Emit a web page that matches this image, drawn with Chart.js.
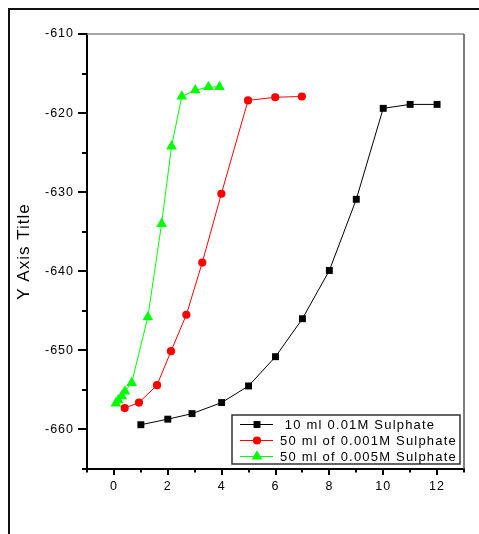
<!DOCTYPE html>
<html><head><meta charset="utf-8">
<script src="https://cdn.jsdelivr.net/npm/chart.js@4.4.0/dist/chart.umd.min.js"></script>
<style>html,body{margin:0;padding:0;background:#fff;}#wrap{width:479px;height:534px;}</style>
</head><body><div id="wrap"><canvas id="c" width="479" height="534"></canvas></div>
<script>
const seriesLabels = ['10 ml 0.01M Sulphate', '50 ml of 0.001M Sulphate', '50 ml of 0.005M Sulphate'];
const seriesColors = ['#000000', '#ff0000', '#00ff00'];
const seriesMarkers = ['rect', 'circle', 'triangle'];

const blackX = [1, 2, 2.9, 4, 5, 6, 7, 8, 9, 10, 11, 12];
const blackY = [-659.4, -658.7, -658.0, -656.6, -654.5, -650.8, -646.0, -639.9, -630.9, -619.4, -618.9, -618.9];

const redX = [0.4, 0.93, 1.6, 2.12, 2.69, 3.28, 3.99, 4.98, 5.99, 6.98];
const redY = [-657.3, -656.6, -654.4, -650.1, -645.5, -638.9, -630.2, -618.4, -618.0, -617.9];

const greenX = [0.07, 0.16, 0.29, 0.41, 0.66, 1.26, 1.77, 2.14, 2.52, 3.02, 3.51, 3.92];
const greenY = [-656.7, -656.3, -655.8, -655.2, -654.1, -645.8, -634.0, -624.2, -617.9, -617.1, -616.7, -616.7];

const xTickValues = [0, 2, 4, 6, 8, 10, 12];
const xMinorValues = [-1, 1, 3, 5, 7, 9, 11, 13];
const yTickValues = [-660, -650, -640, -630, -620, -610];
const yMinorValues = [-665, -655, -645, -635, -625, -615];
const xRange = [-1, 13];
const yRange = [-665, -610];
const yAxisTitle = 'Y Axis Title';

const seriesX = [blackX, redX, greenX];
const seriesY = [blackY, redY, greenY];
const markerRadius = {rect: 4.9, circle: 4.1, triangle: 6.2};

const datasets = seriesLabels.map((lab, i) => ({
  label: lab,
  data: seriesX[i].map((x, j) => ({x: x, y: seriesY[i][j]})),
  showLine: true,
  borderColor: seriesColors[i],
  borderWidth: 1,
  backgroundColor: seriesColors[i],
  pointBackgroundColor: seriesColors[i],
  pointBorderWidth: 0,
  pointStyle: seriesMarkers[i],
  pointRadius: markerRadius[seriesMarkers[i]],
  pointHoverRadius: markerRadius[seriesMarkers[i]],
  tension: 0
}));

const decor = {
  id: 'decor',
  beforeDraw(chart) {
    const ctx = chart.ctx;
    ctx.letterSpacing = '1px';
    ctx.save();
    ctx.strokeStyle = '#111';
    ctx.lineWidth = 2;
    ctx.strokeRect(9, 9, 500, 560);
    ctx.restore();
  },
  afterDraw(chart) {
    const ctx = chart.ctx;
    const a = chart.chartArea;
    const xs = chart.scales.x, ys = chart.scales.y;
    ctx.save();
    ctx.strokeStyle = '#8a8a8a';
    ctx.lineWidth = 1.5;
    ctx.beginPath();
    ctx.moveTo(a.left, a.top); ctx.lineTo(a.right, a.top);
    ctx.stroke();
    ctx.strokeStyle = '#555';
    ctx.beginPath();
    ctx.moveTo(a.right, a.top); ctx.lineTo(a.right, a.bottom + 2);
    ctx.stroke();
    ctx.strokeStyle = '#000';
    ctx.lineWidth = 2;
    ctx.beginPath();
    yTickValues.forEach(v => { const p = Math.round(ys.getPixelForValue(v)); ctx.moveTo(a.left - 9, p); ctx.lineTo(a.left, p); });
    yMinorValues.forEach(v => { const p = Math.round(ys.getPixelForValue(v)); ctx.moveTo(a.left - 5, p); ctx.lineTo(a.left, p); });
    xTickValues.forEach(v => { const p = Math.round(xs.getPixelForValue(v)); ctx.moveTo(p, a.bottom); ctx.lineTo(p, a.bottom + 6); });
    xMinorValues.forEach(v => { const p = Math.round(xs.getPixelForValue(v)); ctx.moveTo(p, a.bottom); ctx.lineTo(p, a.bottom + 3.5); });
    ctx.stroke();
    const bx = 232, by = 415, bw = 228, bh = 49;
    ctx.fillStyle = '#fff';
    ctx.fillRect(bx, by, bw, bh);
    ctx.strokeStyle = '#333';
    ctx.lineWidth = 1.5;
    ctx.strokeRect(bx, by, bw, bh);
    ctx.font = '13px Arial, "Liberation Sans", sans-serif';
    ctx.letterSpacing = '1.2px';
    ctx.textBaseline = 'middle';
    ctx.textAlign = 'left';
    datasets.forEach((ds, i) => {
      const y = by + 9.5 + i * 16;
      ctx.strokeStyle = ds.borderColor;
      ctx.lineWidth = 1;
      ctx.beginPath();
      ctx.moveTo(bx + 8, y); ctx.lineTo(bx + 41, y);
      ctx.stroke();
      ctx.fillStyle = ds.pointBackgroundColor;
      Chart.helpers.drawPoint(ctx, {pointStyle: ds.pointStyle, radius: ds.pointRadius, rotation: 0, borderWidth: 0}, bx + 25, y);
      ctx.fillStyle = '#000';
      ctx.fillText((i === 0 ? ' ' : '') + ds.label, bx + 48, y + 1);
    });
    ctx.restore();
  }
};

new Chart(document.getElementById('c'), {
  type: 'scatter',
  data: {datasets: datasets},
  options: {
    responsive: false,
    devicePixelRatio: 1,
    animation: false,
    layout: {padding: {top: 34, right: 15, left: 0, bottom: 0}},
    plugins: {legend: {display: false}, tooltip: {enabled: false}},
    scales: {
      x: {
        type: 'linear', min: xRange[0], max: xRange[1],
        afterBuildTicks: s => { s.ticks = xTickValues.map(v => ({value: v})); },
        afterFit: s => { s.height = 65; },
        grid: {display: false, drawTicks: false},
        border: {display: true, color: '#000', width: 2},
        ticks: {padding: 10, color: '#000', font: {size: 12.5, family: 'Arial, "Liberation Sans", sans-serif'}, maxRotation: 0}
      },
      y: {
        type: 'linear', min: yRange[0], max: yRange[1],
        afterBuildTicks: s => { s.ticks = yTickValues.map(v => ({value: v})); },
        afterFit: s => { s.width = 87; },
        grid: {display: false, drawTicks: false},
        border: {display: true, color: '#000', width: 2},
        ticks: {padding: 13, color: '#000', font: {size: 12.5, family: 'Arial, "Liberation Sans", sans-serif'}},
        title: {display: true, text: yAxisTitle, color: '#000', padding: {top: 14, bottom: 0}, font: {size: 17, family: 'Arial, "Liberation Sans", sans-serif'}}
      }
    }
  },
  plugins: [decor]
});
</script>
</body></html>
